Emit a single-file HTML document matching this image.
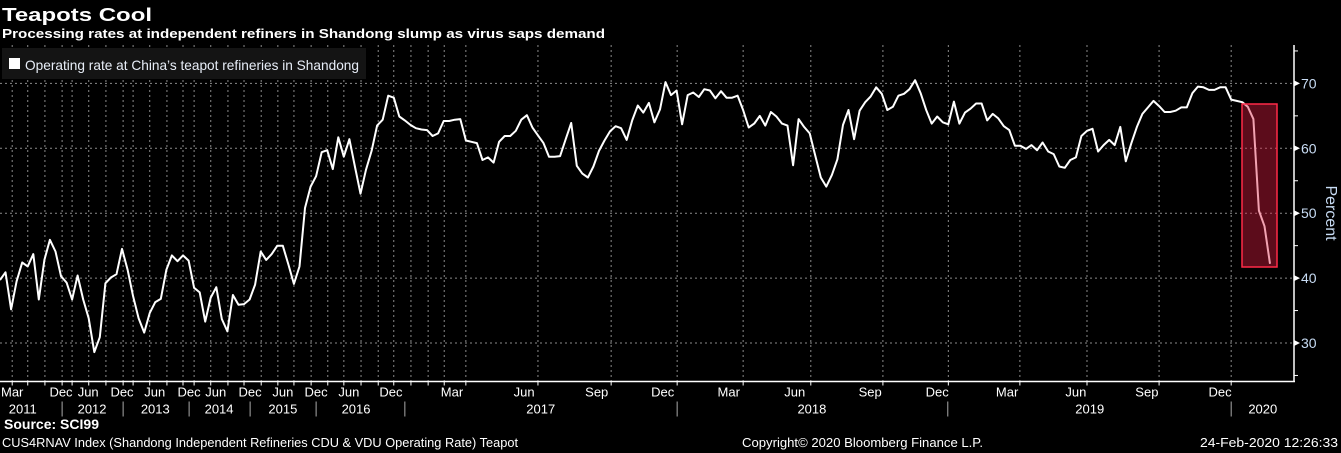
<!DOCTYPE html>
<html><head><meta charset="utf-8">
<style>
html,body{margin:0;padding:0;background:#000;}
body{width:1341px;height:453px;overflow:hidden;position:relative;font-family:"Liberation Sans","DejaVu Sans",sans-serif;color:#fff;}
svg{position:absolute;left:0;top:0;}
</style></head>
<body>
<svg id="chart" width="1341" height="453" viewBox="0 0 1341 453">
  <text x="2" y="21" font-size="18" font-weight="bold" fill="#fff" textLength="150" lengthAdjust="spacingAndGlyphs">Teapots Cool</text>
  <text x="2" y="38" font-size="13" font-weight="bold" fill="#fff" textLength="603" lengthAdjust="spacingAndGlyphs">Processing rates at independent refiners in Shandong slump as virus saps demand</text>
  <g id="grid"></g>
  <g id="series"></g>
  <rect x="1242" y="104" width="35" height="163" fill="rgba(224,29,66,0.41)" stroke="#ff2a48" stroke-width="1.5"/>
  <g>
    <rect x="2" y="48" width="364" height="31" fill="#141414"/>
    <rect x="9" y="58" width="11" height="11" fill="#fff"/>
    <text x="25" y="70" font-size="14" fill="#e8eef8" textLength="334" lengthAdjust="spacingAndGlyphs">Operating rate at China’s teapot refineries in Shandong</text>
  </g>
  <g id="axes"></g>
  <text transform="translate(1326,213) rotate(90)" text-anchor="middle" font-size="16" fill="#c8dcf4">Percent</text>
  <text x="4" y="429" font-size="14" font-weight="bold" fill="#fff" textLength="95" lengthAdjust="spacingAndGlyphs">Source: SCI99</text>
  <text x="2" y="447" font-size="13" fill="#fff" textLength="516" lengthAdjust="spacingAndGlyphs">CUS4RNAV Index (Shandong Independent Refineries CDU &amp; VDU Operating Rate) Teapot</text>
  <text x="742" y="447" font-size="13" fill="#fff" textLength="241" lengthAdjust="spacingAndGlyphs">Copyright© 2020 Bloomberg Finance L.P.</text>
  <text x="1200" y="447" font-size="13" fill="#fff" textLength="138" lengthAdjust="spacingAndGlyphs">24-Feb-2020 12:26:33</text>
</svg>
<script>
const values = [39.7,40.9,35.2,39.5,42.4,41.8,43.7,36.7,42.8,45.9,44.1,40.3,39.3,36.7,40.4,36.7,33.8,28.6,30.9,39.2,40.1,40.6,44.5,41.3,37.2,33.8,31.6,34.6,36.3,36.8,41.3,43.5,42.6,43.5,42.7,38.5,37.8,33.3,37.0,38.6,33.7,31.8,37.4,35.9,36.0,36.7,39.0,44.1,42.8,43.7,45.0,45.0,42.1,39.1,41.8,50.8,54.1,55.7,59.4,59.7,56.8,61.7,58.7,61.4,57.2,53.0,56.7,59.6,63.5,64.4,68.1,67.8,64.9,64.3,63.6,63.1,
62.9,62.8,61.9,62.3,64.2,64.2,64.4,64.5,61.2,61.0,60.8,58.2,58.6,57.8,61.0,61.9,61.9,62.7,64.4,65.1,63.2,62.0,60.8,58.7,58.7,58.8,61.4,63.9,57.3,56.1,55.5,57.2,59.6,61.2,62.6,63.4,63.1,61.3,64.3,66.6,65.5,67.0,64.0,66.0,70.2,68.2,68.9,63.7,68.2,68.6,67.9,69.1,68.9,67.7,68.8,67.8,67.8,68.1,65.9,63.2,63.8,65.0,63.5,65.6,64.9,63.8,63.5,57.4,64.5,63.3,62.3,58.9,55.5,54.1,55.9,58.3,
63.6,65.9,61.4,65.8,67.1,68.0,69.4,68.4,65.9,66.4,68.1,68.4,69.1,70.5,68.5,65.9,63.8,64.9,64.0,63.7,67.2,63.8,65.5,66.1,66.9,66.9,64.3,65.3,64.6,63.4,62.8,60.4,60.4,59.9,60.5,59.7,60.9,59.5,59.1,57.2,57.0,58.2,58.6,61.9,62.7,63.0,59.5,60.5,61.3,60.5,63.3,58.0,60.8,63.3,65.3,66.3,67.3,66.5,65.6,65.6,65.8,66.3,66.3,68.5,69.5,69.4,69.0,69.0,69.4,69.4,67.5,67.3,67.1,66.4,64.5,50.4,48.0,42.2];
const monthLabels = ["Mar","Dec","Jun","Dec","Jun","Dec","Jun","Dec","Jun","Dec","Jun","Dec","Mar","Jun","Sep","Dec","Mar","Jun","Sep","Dec","Mar","Jun","Sep","Dec"];
const monthIdx = [2.2,11.0,15.9,22.0,27.9,34.1,38.9,45.1,51.0,57.0,62.9,70.5,81.5,94.5,107.6,119.5,131.4,143.3,156.9,169.0,181.6,194.0,206.8,220.0];
const yearLabels = ["2011","2012","2013","2014","2015","2016","2017","2018","2019","2020"];
const yearIdx = [4.1,16.6,28.0,39.5,51.0,64.2,97.5,146.4,196.5,227.7];
const yearSepIdx = [11.2,22.2,34.1,45.1,57.0,73.0,122.1,170.9,222.0];
const gridIdx = [2.2,5.0,8.1,11.2,13.0,16.0,19.1,22.2,24.0,27.0,30.1,33.0,35.0,38.0,41.1,44.0,47.1,50.1,53.0,56.1,59.1,62.0,65.1,68.2,71.0,74.1,77.2,80.1,84.0,97.0,110.2,122.1,134.0,146.2,159.2,171.0,183.9,196.0,209.0,222.0];
const yTicks = [30,40,50,60,70];

const N = values.length;
const X0 = 0, X1 = 1270;
function xS(i){ return X0 + i*(X1-X0)/229; }
function yS(v){ return 148.3 - (v-60)*6.49; }
const NS = "http://www.w3.org/2000/svg";
function mk(tag, attrs, parent){ const e=document.createElementNS(NS,tag); for(const k in attrs) e.setAttribute(k,attrs[k]); parent.appendChild(e); return e; }

const grid = document.getElementById('grid');
const axes = document.getElementById('axes');
const series = document.getElementById('series');
const AXY = 381.5, AXX = 1294;

yTicks.forEach(v=>{
  const l = mk('line',{x1:0,x2:AXX,y1:yS(v),y2:yS(v),stroke:'#8a8a8a','stroke-width':1,'stroke-dasharray':'2,3'},grid);
  
  
});
gridIdx.forEach(i=>{
  const l = mk('line',{x1:xS(i),x2:xS(i),y1:45,y2:AXY,stroke:'#8a8a8a','stroke-width':1,'stroke-dasharray':'2,3'},grid);
  
  
});

let d = '';
values.forEach((v,i)=>{ d += (i?'L':'M') + xS(i).toFixed(1) + ',' + yS(v).toFixed(1); });
const path = mk('path',{d:d,fill:'none',stroke:'#fff','stroke-width':2,'stroke-linejoin':'round'},series);



const xa = mk('line',{x1:0,x2:AXX+1,y1:AXY,y2:AXY,stroke:'#fff','stroke-width':1.5},axes);


const ya = mk('line',{x1:AXX,x2:AXX,y1:45,y2:AXY,stroke:'#fff','stroke-width':1.5},axes);



yTicks.forEach(v=>{
  const p = mk('path',{d:`M${AXX},${yS(v)-3}L${AXX+6},${yS(v)}L${AXX},${yS(v)+3}Z`,fill:'#fff'},axes);
  
  
  const t = mk('text',{x:AXX+7,y:yS(v)+5,'font-size':14,fill:'#c8dcf4'},axes);
  t.textContent = v;
  
  
});
[25,35,45,55,65,75].forEach(v=>{
  if (yS(v) < 45 || yS(v) > AXY) return;
  const l = mk('line',{x1:AXX,x2:AXX+4,y1:yS(v),y2:yS(v),stroke:'#fff'},axes);
  
  
});

gridIdx.forEach(i=>{
  const l = mk('line',{x1:xS(i),x2:xS(i),y1:AXY,y2:AXY+4,stroke:'#fff'},axes);
  
  
});
monthLabels.forEach((m,k)=>{
  const t = mk('text',{x:xS(monthIdx[k]),y:AXY+15,'font-size':13,fill:'#fff','text-anchor':'middle'},axes);
  t.textContent = m;
  
  
});
yearLabels.forEach((y,k)=>{
  const t = mk('text',{x:xS(yearIdx[k]),y:AXY+32,'font-size':13,fill:'#fff','text-anchor':'middle'},axes);
  t.textContent = y;
  
  
});
yearSepIdx.forEach(i=>{
  const l = mk('line',{x1:xS(i),x2:xS(i),y1:AXY+20,y2:AXY+35,stroke:'#aaa'},axes);
  
  
});
</script>
</body></html>
